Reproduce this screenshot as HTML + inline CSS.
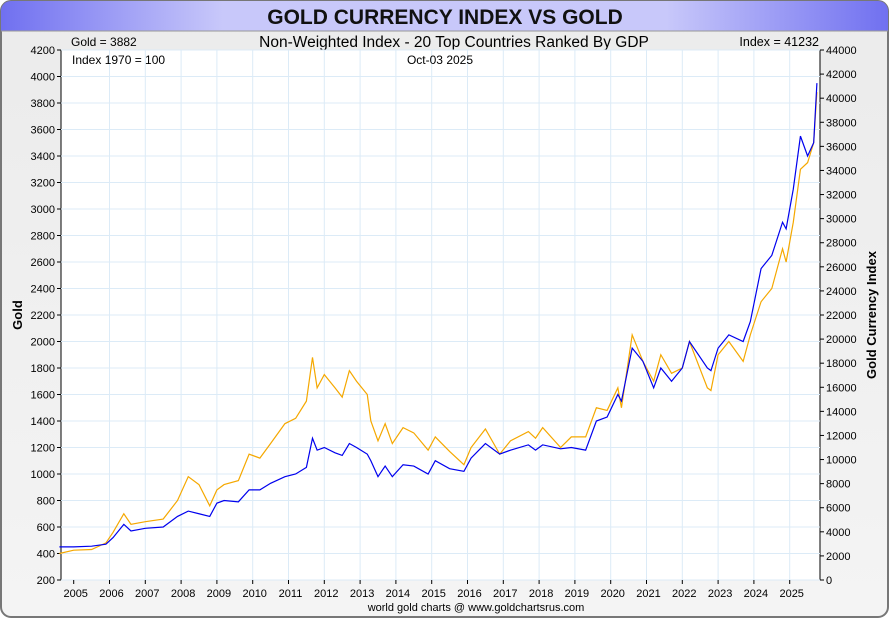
<!DOCTYPE html>
<html><head><meta charset="utf-8"><style>
body{margin:0;width:890px;height:620px;overflow:hidden;background:#fff;font-family:"Liberation Sans",sans-serif}
</style></head><body>
<svg width="890" height="620" xmlns="http://www.w3.org/2000/svg">
<defs>
<linearGradient id="tb" x1="0" x2="1" y1="0" y2="0"><stop offset="0" stop-color="#7070f0"/><stop offset="0.25" stop-color="#c8c8fa"/><stop offset="0.75" stop-color="#c8c8fa"/><stop offset="1" stop-color="#7070f0"/></linearGradient>
<linearGradient id="bg" x1="0" x2="0" y1="0" y2="1"><stop offset="0" stop-color="#ebebeb"/><stop offset="1" stop-color="#f4f4f4"/></linearGradient>
</defs>
<rect x="1" y="1" width="887" height="616" rx="10" fill="url(#bg)" stroke="#777" stroke-width="2"/>
<path d="M1,31 V11 A10,10 0 0 1 11,1 H878 A10,10 0 0 1 888,11 V31 Z" fill="url(#tb)"/>
<line x1="1" y1="31" x2="888" y2="31" stroke="#999"/>
<text x="445" y="24" text-anchor="middle" font-size="21" font-weight="bold" fill="#111">GOLD CURRENCY INDEX VS GOLD</text>
<text x="71" y="46" font-size="12">Gold = 3882</text>
<text x="454" y="47" text-anchor="middle" font-size="15.5">Non-Weighted Index - 20 Top Countries Ranked By GDP</text>
<text x="819" y="46" text-anchor="end" font-size="12.5">Index = 41232</text>
<rect x="61" y="50" width="759" height="530" fill="#fff" stroke="#000"/>
<g id="grid"></g><g id="axes"></g><g id="series"></g>
<text x="72" y="64" font-size="12">Index 1970 = 100</text>
<text x="440" y="64" text-anchor="middle" font-size="12">Oct-03  2025</text>
<text x="22" y="315" transform="rotate(-90 22 315)" text-anchor="middle" font-size="13" font-weight="bold">Gold</text>
<text x="876" y="315" transform="rotate(-90 876 315)" text-anchor="middle" font-size="13" font-weight="bold">Gold Currency Index</text>
<text x="476" y="611" text-anchor="middle" font-size="11">world gold charts @ www.goldchartsrus.com</text>
</svg>
<script>
const dates=[2004.6,2005.0,2005.5,2005.9,2006.1,2006.4,2006.6,2007.0,2007.5,2007.9,2008.2,2008.5,2008.8,2009.0,2009.2,2009.6,2009.9,2010.2,2010.5,2010.9,2011.2,2011.5,2011.67,2011.8,2012.0,2012.3,2012.5,2012.7,2012.9,2013.2,2013.3,2013.5,2013.7,2013.9,2014.2,2014.5,2014.9,2015.1,2015.5,2015.9,2016.1,2016.5,2016.9,2017.2,2017.7,2017.9,2018.1,2018.6,2018.9,2019.3,2019.6,2019.9,2020.2,2020.3,2020.6,2020.9,2021.2,2021.4,2021.7,2022.0,2022.2,2022.7,2022.8,2023.0,2023.3,2023.7,2023.9,2024.2,2024.5,2024.8,2024.9,2025.1,2025.3,2025.5,2025.67,2025.76];
const goldValues=[400,425,430,480,560,700,620,640,660,800,980,920,760,880,920,950,1150,1120,1230,1380,1420,1550,1880,1650,1750,1650,1580,1780,1700,1600,1400,1250,1380,1230,1350,1310,1180,1280,1170,1070,1200,1340,1150,1250,1320,1270,1350,1200,1280,1280,1500,1480,1650,1500,2050,1850,1700,1900,1760,1800,2000,1650,1630,1900,2000,1850,2050,2300,2400,2700,2600,2900,3300,3350,3500,3882];
const indexValues=[2750,2750,2805,2970,3520,4620,4070,4290,4400,5280,5720,5500,5280,6380,6600,6490,7480,7480,8030,8580,8800,9350,11770,10780,11000,10560,10340,11330,11000,10450,9900,8580,9460,8580,9570,9460,8800,9900,9240,9020,10120,11330,10450,10780,11220,10780,11220,10890,11000,10780,13200,13530,15400,14850,19250,18150,15950,17600,16500,17600,19800,17600,17380,19250,20350,19800,21450,25850,26950,29700,29150,32450,36850,35200,36300,41250];
const years=[2005,2006,2007,2008,2009,2010,2011,2012,2013,2014,2015,2016,2017,2018,2019,2020,2021,2022,2023,2024,2025];
const leftTicks=[200,400,600,800,1000,1200,1400,1600,1800,2000,2200,2400,2600,2800,3000,3200,3400,3600,3800,4000,4200];
const rightTicks=[0,2000,4000,6000,8000,10000,12000,14000,16000,18000,20000,22000,24000,26000,28000,30000,32000,34000,36000,38000,40000,42000,44000];
const X=t=>73.7+(t-2005)*35.8;
const YL=v=>580-(v-200)/4000*530;
const YR=v=>580-v/44000*530;
const NS="http://www.w3.org/2000/svg";
function mk(p,tag,a){const e=document.createElementNS(NS,tag);for(const k in a)e.setAttribute(k,a[k]);document.getElementById(p).appendChild(e);return e;}
leftTicks.forEach(v=>{const y=YL(v);
 const g=mk('grid','line',{x1:61,x2:820,y1:y,y2:y,stroke:'#dcebf7'});
 
 
 mk('axes','line',{x1:57,x2:61,y1:y,y2:y,stroke:'#000'});
 const t=mk('axes','text',{x:55,y:y+4,'text-anchor':'end','font-size':11});t.textContent=v;
 
 
});
rightTicks.forEach(v=>{const y=YR(v);
 mk('axes','line',{x1:820,x2:824,y1:y,y2:y,stroke:'#000'});
 const t=mk('axes','text',{x:826,y:y+4,'font-size':11});t.textContent=v;
 
 
});
years.forEach(yr=>{const x=X(yr);
 if(yr>2005){const g=mk('grid','line',{x1:x,x2:x,y1:50,y2:580,stroke:'#dcebf7'});
 
 }
 mk('axes','line',{x1:x,x2:x,y1:580,y2:584,stroke:'#000'});
 const t=mk('axes','text',{x:x+2,y:597,'text-anchor':'middle','font-size':11});t.textContent=yr;
 
 
});
const gp=mk('series','polyline',{points:dates.map((d,i)=>X(d)+','+YL(goldValues[i])).join(' '),fill:'none',stroke:'#f5a800','stroke-width':1.2});


const ip=mk('series','polyline',{points:dates.map((d,i)=>X(d)+','+YR(indexValues[i])).join(' '),fill:'none',stroke:'#0000ee','stroke-width':1.2});


</script>
</body></html>
